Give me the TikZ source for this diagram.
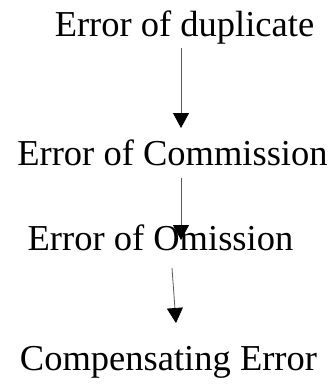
\documentclass[tikz,border=0pt]{standalone}
\usepackage{fontspec}
\setmainfont{Liberation Serif}
\usetikzlibrary{arrows.meta}
\begin{document}
\begin{tikzpicture}[x=1bp, y=-1bp,
  label/.style={anchor=base, inner sep=0pt, font=\fontsize{36.5bp}{40bp}\selectfont},
  flow/.style={draw=black!65, line width=0.8bp,
    -{Triangle[width=16bp, length=15bp, color=black, fill=black]}}]
  \useasboundingbox (0,0) rectangle (334,387);

  % the four kinds of error, top to bottom
  \node[label] (dup) at (184.5,36)  {Error of duplicate};
  \node[label] (com) at (172.5,165) {Error of Commission};
  \node[label] (omi) at (160.5,250) {Error of Omission};
  \node[label] (cmp) at (168.5,370) {Compensating Error};

  % arrow end points
  \coordinate (a1s) at (181,48);
  \coordinate (a1e) at (181,128);
  \coordinate (a2s) at (181,178);
  \coordinate (a2e) at (181,240);
  \coordinate (a3s) at (172,268);
  \coordinate (a3e) at (176,323);

  \draw[flow] (a1s) -- (a1e);
  \draw[flow] (a2s) -- (a2e);
  \draw[flow] (a3s) -- (a3e);
\end{tikzpicture}
\end{document}
